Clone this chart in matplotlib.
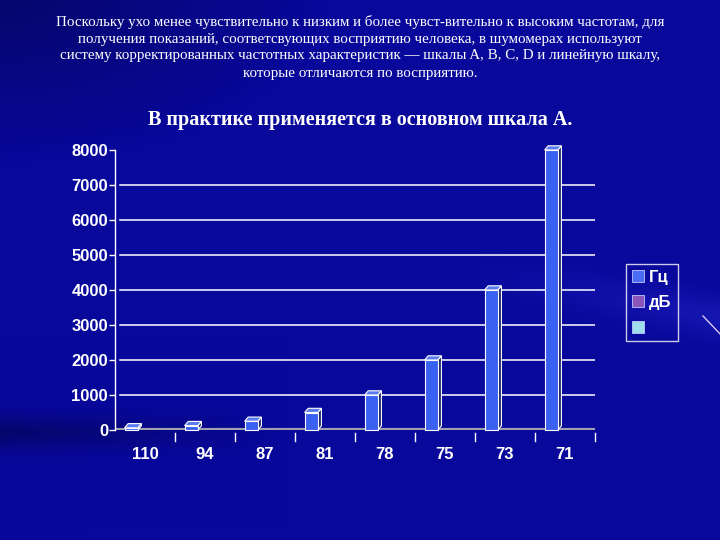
import numpy as np
import matplotlib
matplotlib.use("Agg")
import matplotlib.pyplot as plt
from matplotlib.patches import Polygon, Rectangle

# ---- data ----
categories = ["110", "94", "87", "81", "78", "75", "73", "71"]
hz_values = [63, 125, 250, 500, 1000, 2000, 4000, 8000]
y_ticks = [0, 1000, 2000, 3000, 4000, 5000, 6000, 7000, 8000]
legend_labels = ["Гц", "дБ", ""]
legend_colors = ["#4a6cf5", "#8a55b8", "#9fdcec"]

intro_lines = [
    "Поскольку ухо менее чувствительно к низким и более чувст-вительно к высоким частотам, для",
    "получения показаний, соответсвующих восприятию человека, в шумомерах используют",
    "систему корректированных частотных характеристик — шкалы A, B, C, D и линейную шкалу,",
    "которые отличаются по восприятию.",
]
title = "В практике применяется в основном шкала А."

W, H = 720, 540
fig = plt.figure(figsize=(7.2, 5.4), dpi=100)

# ---- background ----
bg = fig.add_axes([0, 0, 1, 1], zorder=-10)
gy, gx = np.mgrid[0:H, 0:W]
yy, xx = gy / H, gx / W
base = np.array([8, 8, 155]) / 255.0
img = np.ones((H, W, 3)) * base
dark = np.clip(1 - np.hypot(xx / 0.45, yy / 0.30), 0, 1) * 0.30
dark2 = np.exp(-((yy - 0.80) / 0.03) ** 2) * np.clip(1 - xx / 0.4, 0, 1) * 0.30
light = np.exp(-((yy - 0.55 - 0.25 * (xx - 0.85)) / 0.04) ** 2) * np.clip((xx - 0.6) / 0.4, 0, 1) * 0.35
f = 1 - dark - dark2
img = img * f[..., None]
img = img + light[..., None] * np.array([0.15, 0.15, 0.25])
img = np.clip(img, 0, 1)
bg.imshow(img, extent=[0, W, H, 0], aspect="auto")
bg.set_xlim(0, W)
bg.set_ylim(H, 0)
bg.axis("off")
bg.plot([703, 722], [316, 336], color="#d8c8f0", lw=1)

# ---- texts ----
serif = ["Liberation Serif", "DejaVu Serif"]
for i, line in enumerate(intro_lines):
    fig.text(0.5, 1 - (22 + 17 * i) / H, line, ha="center", va="center",
             color="white", fontsize=10.8, family=serif)
fig.text(0.5, 1 - 120 / H, title, ha="center", va="center", color="white",
         fontsize=14.5, fontweight="bold", family=serif)

# ---- chart ----
ax = fig.add_axes([115 / W, 110 / H, 480 / W, 280 / H])
ax.patch.set_alpha(0)
ax.set_xlim(-0.5, len(categories) - 0.5)
ax.set_ylim(0, 8000)

for s in ["top", "right", "bottom"]:
    ax.spines[s].set_visible(False)
ax.spines["left"].set_color("white")
ax.spines["left"].set_linewidth(1)

ax.set_yticks(y_ticks)
ax.set_yticklabels([str(t) for t in y_ticks])
ax.set_xticks(range(len(categories)))
ax.set_xticklabels(categories)
ax.tick_params(axis="y", colors="white", length=4, width=1, pad=1)
ax.tick_params(axis="x", length=0, pad=12)
for lab in ax.get_xticklabels() + ax.get_yticklabels():
    lab.set_color("white")
    lab.set_fontweight("bold")
    lab.set_fontsize(12)
    lab.set_family(["Liberation Sans", "DejaVu Sans"])

for t in y_ticks[1:-1]:
    ax.axhline(t, color="white", lw=1.1, xmin=0.01, xmax=1.0, zorder=1)

# floor
ax.axhline(0, color="#a0a0b0", lw=3, zorder=2, xmax=1.0)
for k in range(1, len(categories) + 1):
    ax.plot([k - 0.5, k - 0.5], [-80, -300], color="white", lw=1, clip_on=False, zorder=2)

# 3D bars
bw = 0.22
off = -0.23
dx = 0.06
dy = 120
for i, v in enumerate(hz_values):
    x0 = i + off - bw / 2
    x1 = x0 + bw
    side = Polygon([(x1, 0), (x1 + dx, dy), (x1 + dx, v + dy), (x1, v)], closed=True,
                   facecolor="#122060", edgecolor="white", lw=0.8, zorder=3, clip_on=False)
    top = Polygon([(x0, v), (x0 + dx, v + dy), (x1 + dx, v + dy), (x1, v)], closed=True,
                  facecolor="#5a7cf0", edgecolor="white", lw=0.8, zorder=4, clip_on=False)
    ax.add_patch(side)
    ax.add_patch(top)
    bars = ax.bar(i + off, v, width=bw, color="#3a62f2", edgecolor="white", lw=0.8, zorder=4)
    for b in bars:
        b.set_clip_on(False)

# legend
handles = [Rectangle((0, 0), 1, 1, facecolor=c, edgecolor="#c0c8ff", lw=0.6) for c in legend_colors]
leg = fig.legend(handles, legend_labels, loc="upper left",
                 bbox_to_anchor=(626 / W, 1 - 264 / H), frameon=True,
                 prop={"family": ["Liberation Sans", "DejaVu Sans"], "weight": "bold", "size": 12},
                 handlelength=0.75, handleheight=0.75, handletextpad=0.3,
                 labelspacing=0.62, borderpad=0.35, fancybox=False, borderaxespad=0)
leg.get_frame().set_facecolor("none")
leg.get_frame().set_edgecolor("white")
leg.get_frame().set_linewidth(1)
for t in leg.get_texts():
    t.set_color("white")

fig.savefig("out.png", dpi=100)
